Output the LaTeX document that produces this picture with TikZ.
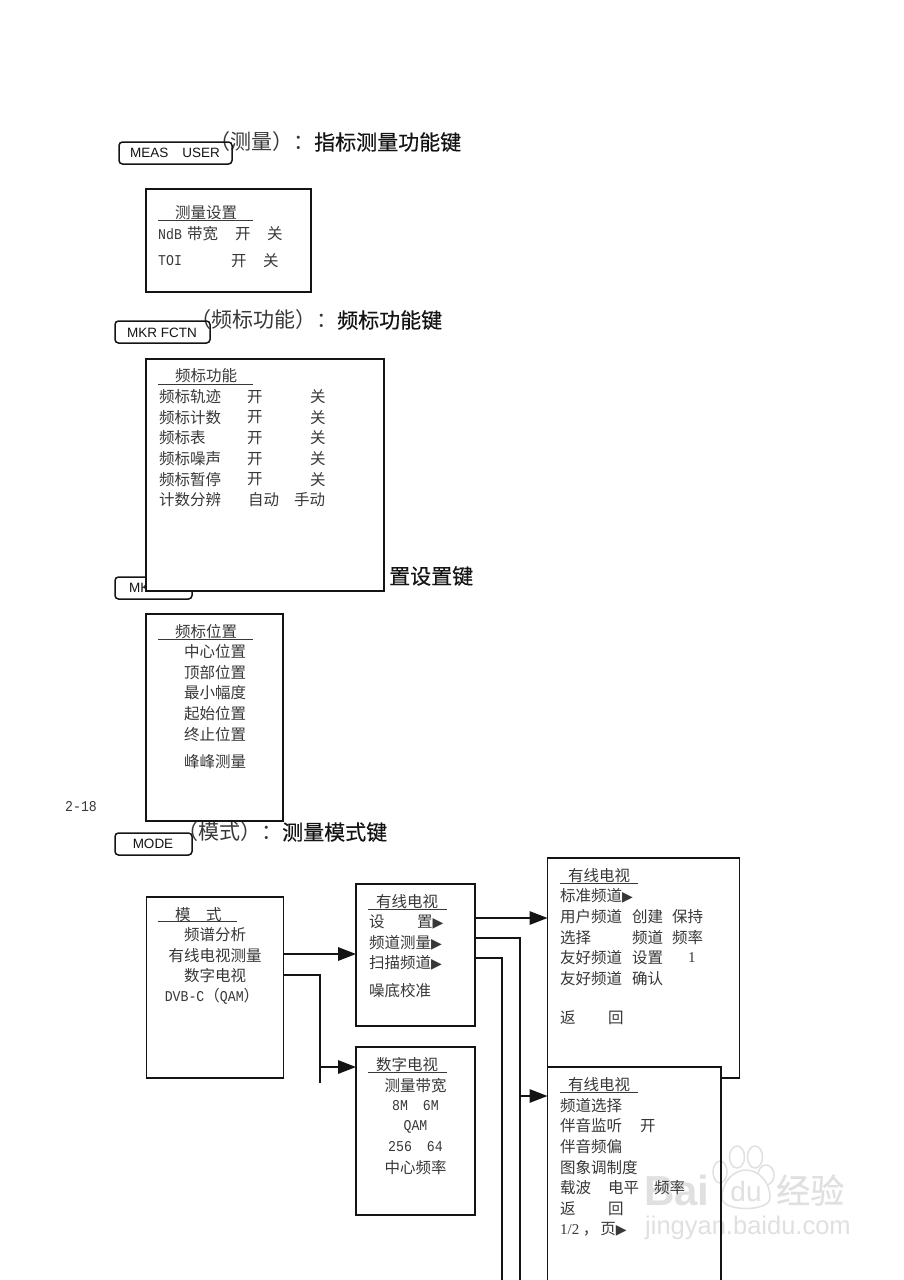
\documentclass[tikz,border=0pt]{standalone}
\usepackage{fontspec}
\usetikzlibrary{arrows.meta}
\setmainfont{Liberation Serif}
\newfontfamily\cjk{Noto Sans CJK SC}
\newfontfamily\cjkb[FakeBold=0.35]{Noto Sans CJK SC}
\newfontfamily\helv{Liberation Sans}
\newfontfamily\djv{DejaVu Sans}
\newfontfamily\lat[FakeStretch=0.88]{Liberation Mono}
\newcommand{\tri}{{\djv\fontsize{14}{14}\selectfont ▶}}
\newcommand{\ltn}[1]{{\lat\fontsize{15}{15}\selectfont #1}}
\newcommand{\tms}[1]{{\rmfamily\fontsize{15}{15}\selectfont #1}}
\definecolor{ink}{gray}{0.08}
\definecolor{soft}{gray}{0.22}
\definecolor{wm}{gray}{0.88}
\tikzset{
  x=1pt,y=-1pt,
  panel/.style={draw=ink,line width=1.5pt,fill=white,inner sep=0pt,outer sep=0pt,anchor=north west},
  keybox/.style={draw=ink,line width=1.5pt,rounded corners=3.5pt,fill=white,inner sep=0pt,outer sep=0pt,anchor=north west},
  keytext/.style={font=\helv\fontsize{13.5}{14}\selectfont,text=ink,inner sep=0pt},
  item/.style={font=\cjk\fontsize{15.5}{16}\selectfont,text=soft,inner sep=0pt,anchor=west,yshift=-0.7pt},
  itemc/.style={font=\cjk\fontsize{15.5}{16}\selectfont,text=soft,inner sep=0pt,yshift=-0.7pt},
  head/.style={font=\cjk\fontsize{21}{22}\selectfont,text=ink,inner sep=0pt,anchor=west},
  pagenum/.style={font=\lat\fontsize{15}{15}\selectfont,text=soft,inner sep=0pt,anchor=west},
  rule/.style={draw=soft,line width=1pt},
  wire/.style={draw=ink,line width=1.5pt},
  arrowwire/.style={wire,-{Triangle[length=18pt,width=13.5pt]}},
  wmtext/.style={text=wm,inner sep=0pt,font=\helv\bfseries\fontsize{42}{42}\selectfont}
}
\begin{document}
\begin{tikzpicture}
\useasboundingbox (0,0) rectangle (904,1280);
\clip (0,0) rectangle (904,1280);
\fill[white] (0,0) rectangle (904,1280);
% section 1
\node[head] (h1) at (209,142) {{\color{soft}（测量）：}{\cjkb 指标测量功能键}};
\node[keybox,minimum width=113pt,minimum height=22pt,fill=none] (k1) at (119,142) {};
\node[keytext] (k1t) at (175,152.5) {MEAS\hspace{14pt}USER};
\node[panel,minimum width=165pt,minimum height=103pt] (b1) at (146,189) {};
\node[item] (b1h) at (175,212) {测量设置};
\coordinate (b1ua) at (158,220.5); \coordinate (b1ub) at (253,220.5);
\draw[rule] (b1ua) -- (b1ub);
\node[item] (b1a) at (158,233) {\ltn{NdB}};
\node[item] (b1b) at (187,233) {带宽};
\node[item] (b1c) at (235,233) {开};
\node[item] (b1d) at (267,233) {关};
\node[item] (b1e) at (158,260) {\ltn{TOI}};
\node[item] (b1f) at (231,260) {开};
\node[item] (b1g) at (263,260) {关};
% section 2
\node[head] (h2) at (190,320) {{\color{soft}（频标功能）：}{\cjkb 频标功能键}};
\node[keybox,minimum width=95pt,minimum height=22pt,fill=none] (k2) at (115,321) {};
\node[keytext] (k2t) at (162,332.5) {MKR FCTN};
% section 3 behind box 2
\node[head] (h3) at (389,576) {\cjkb 置设置键};
\node[keybox,minimum width=77pt,minimum height=22pt] (k3) at (115,577) {};
\node[keytext,anchor=west] (k3t) at (129,588) {MK};
\node[panel,minimum width=238pt,minimum height=232pt] (b2) at (146,359) {};
\node[item] (b2h) at (175,375) {频标功能};
\coordinate (b2ua) at (158,384.5); \coordinate (b2ub) at (253,384.5);
\draw[rule] (b2ua) -- (b2ub);
\node[item] (r1) at (159,396) {频标轨迹};  \node[item] (r1a) at (247,396) {开}; \node[item] (r1b) at (310,396) {关};
\node[item] (r2) at (159,416.5) {频标计数}; \node[item] (r2a) at (247,416.5) {开}; \node[item] (r2b) at (310,416.5) {关};
\node[item] (r3) at (159,437) {频标表};   \node[item] (r3a) at (247,437) {开}; \node[item] (r3b) at (310,437) {关};
\node[item] (r4) at (159,458) {频标噪声};  \node[item] (r4a) at (247,458) {开}; \node[item] (r4b) at (310,458) {关};
\node[item] (r5) at (159,478.5) {频标暂停}; \node[item] (r5a) at (247,478.5) {开}; \node[item] (r5b) at (310,478.5) {关};
\node[item] (r6) at (159,499) {计数分辨};  \node[item] (r6a) at (248,499) {自动}; \node[item] (r6b) at (294,499) {手动};
% section 4 (mode heading first, box 3 over it)
\node[head] (h4) at (177,832) {{\color{soft}（模式）：}{\cjkb 测量模式键}};
\node[panel,minimum width=137pt,minimum height=207pt] (b3) at (146,614) {};
\node[item] (b3h) at (175,631) {频标位置};
\coordinate (b3ua) at (158,639.5); \coordinate (b3ub) at (253,639.5);
\draw[rule] (b3ua) -- (b3ub);
\node[item] (p1) at (184,651) {中心位置};
\node[item] (p2) at (184,672) {顶部位置};
\node[item] (p3) at (184,692) {最小幅度};
\node[item] (p4) at (184,713) {起始位置};
\node[item] (p5) at (184,734) {终止位置};
\node[item] (p6) at (184,761) {峰峰测量};
\node[pagenum] (pg) at (65,807) {2-18};
\node[keybox,minimum width=77pt,minimum height=22pt] (k4) at (115,833) {};
\node[keytext] (k4t) at (153,843.5) {MODE};
% mode menu
\node[panel,minimum width=137pt,minimum height=181pt] (mode) at (146.5,897) {};
\node[item] (mh1) at (175,914) {模}; \node[item] (mh2) at (206,914) {式};
\coordinate (mua) at (158,921.5); \coordinate (mub) at (237,921.5);
\draw[rule] (mua) -- (mub);
\node[itemc] (m1) at (215,934) {频谱分析};
\node[itemc] (m2) at (215,955) {有线电视测量};
\node[itemc] (m3) at (215,975) {数字电视};
\node[itemc] (m4) at (212,996) {\ltn{DVB-C}（\ltn{QAM}）};
% cable box 1
\node[panel,minimum width=119pt,minimum height=142pt] (cable) at (356,884) {};
\node[item] (ch) at (376,901) {有线电视};
\coordinate (cua) at (368,909); \coordinate (cub) at (447,909);
\draw[rule] (cua) -- (cub);
\node[item] (c1a) at (369,921) {设}; \node[item] (c1b) at (417,921) {置\tri};
\node[item] (c2) at (369,942) {频道测量\tri};
\node[item] (c3) at (369,962) {扫描频道\tri};
\node[item] (c4) at (369,990) {噪底校准};
% digital box
\node[panel,minimum width=119pt,minimum height=168pt] (dig) at (356,1047) {};
\node[item] (dh) at (376,1064) {数字电视};
\coordinate (dua) at (368,1072); \coordinate (dub) at (447,1072);
\draw[rule] (dua) -- (dub);
\node[itemc] (d1) at (415.5,1085) {测量带宽};
\node[itemc] (d2) at (415.5,1105) {\ltn{8M}\hspace{15pt}\ltn{6M}};
\node[itemc] (d3) at (415.5,1126) {\ltn{QAM}};
\node[itemc] (d4) at (415.5,1146) {\ltn{256}\hspace{15pt}\ltn{64}};
\node[itemc] (d5) at (415.5,1167) {中心频率};
% large cable box
\node[panel,minimum width=192pt,minimum height=220pt] (std) at (547.5,858) {};
\node[item] (sh) at (568,875) {有线电视};
\coordinate (sua) at (560,883); \coordinate (sub) at (638,883);
\draw[rule] (sua) -- (sub);
\node[item] (s1) at (560,895) {标准频道\tri};
\node[item] (s2) at (560,916) {用户频道}; \node[item] (s2a) at (632,916) {创建}; \node[item] (s2b) at (672,916) {保持};
\node[item] (s3) at (560,937) {选择}; \node[item] (s3a) at (632,937) {频道}; \node[item] (s3b) at (672,937) {频率};
\node[item] (s4) at (560,957) {友好频道}; \node[item] (s4a) at (632,957) {设置}; \node[item] (s4b) at (688,957) {\tms{1}};
\node[item] (s5) at (560,978) {友好频道}; \node[item] (s5a) at (632,978) {确认};
\node[item] (s6) at (560,1017) {返}; \node[item] (s6a) at (608,1017) {回};
% channel box: white ground, then the watermark, then its outline and texts
\node[panel,draw=none,minimum width=173.5pt,minimum height=243pt] (chanbg) at (547.5,1067) {};
\begin{scope}[draw=wm,line width=1.5pt,fill=white]
\filldraw (720,1172) ellipse (7 and 11);
\filldraw (737,1157) ellipse (7.5 and 11);
\filldraw (755,1157) ellipse (7.5 and 11);
\filldraw (766,1175) ellipse (8 and 10);
\filldraw (722,1198) .. controls (722,1180) and (735,1170) .. (746,1170) .. controls (757,1170) and (770,1180) .. (770,1198) .. controls (770,1212) and (722,1212) .. (722,1198) -- cycle;
\end{scope}
\node[wmtext,anchor=west] (wm1) at (644,1190) {Bai};
\node[wmtext,anchor=center,font=\helv\fontsize{28}{28}\selectfont] (wm2) at (746,1191) {du};
\node[wmtext,anchor=west,font=\cjkb\fontsize{34}{34}\selectfont] (wm4) at (776,1190) {经验};
\node[wmtext,anchor=west,font=\helv\fontsize{25.5}{26}\selectfont] (wm3) at (645,1228) {jingyan.baidu.com};
\node[panel,fill=none,minimum width=173.5pt,minimum height=243pt] (chan) at (547.5,1067) {};
\node[item] (th) at (568,1084) {有线电视};
\coordinate (tua) at (560,1092); \coordinate (tub) at (638,1092);
\draw[rule] (tua) -- (tub);
\node[item] (t1) at (560,1105) {频道选择};
\node[item] (t2) at (560,1125) {伴音监听}; \node[item] (t2a) at (640,1125) {开};
\node[item] (t3) at (560,1146) {伴音频偏};
\node[item] (t4) at (560,1167) {图象调制度};
\node[item] (t5) at (560,1187) {载波}; \node[item] (t5a) at (608,1187) {电平}; \node[item] (t5b) at (654,1187) {频率};
\node[item] (t6) at (560,1208) {返}; \node[item] (t6a) at (608,1208) {回};
\node[item] (t7) at (560,1229) {\tms{1/2} ，\hspace{2pt}页\tri};
% connectors
\coordinate (stub1) at (320,1083);
\coordinate (off1) at (520,1285);
\coordinate (off2) at (502,1285);
\draw[arrowwire] (mode.east |- 0,954) -- (cable.west |- 0,954);
\draw[wire] (mode.east |- 0,975) -| (stub1);
\draw[arrowwire] (stub1 |- 0,1067) -- (dig.west |- 0,1067);
\draw[arrowwire] (cable.east |- 0,918) -- (std.west |- 0,918);
\draw[wire] (cable.east |- 0,938) -| (off1);
\draw[arrowwire] (off1 |- 0,1096) -- (chan.west |- 0,1096);
\draw[wire] (cable.east |- 0,958) -| (off2);
\end{tikzpicture}
\end{document}
